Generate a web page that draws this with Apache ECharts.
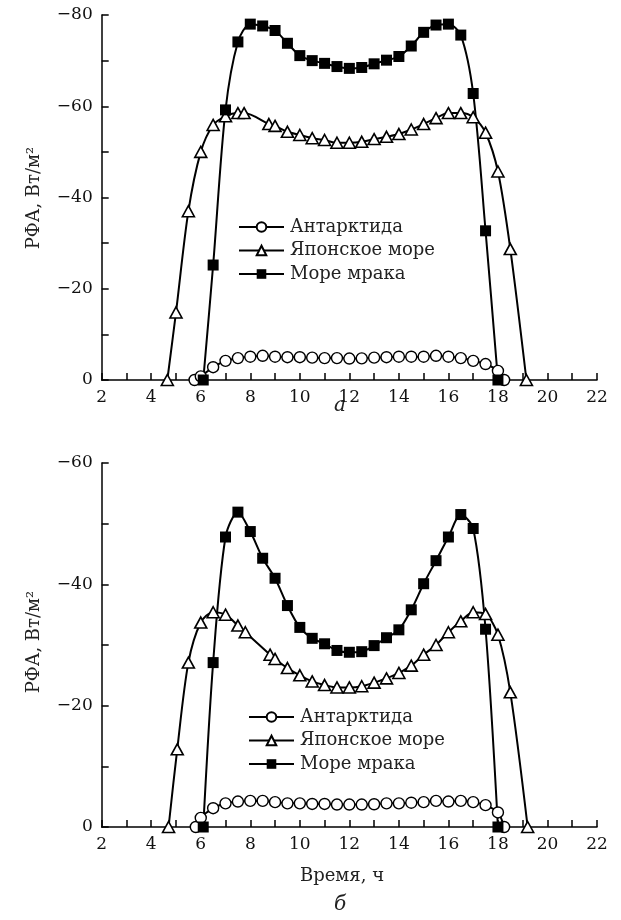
<!DOCTYPE html>
<html>
<head>
<meta charset="utf-8">
<script src="https://cdn.jsdelivr.net/npm/echarts@6/dist/echarts.min.js"></script>
<style>
html,body{margin:0;padding:0;background:#fff;}
#c{width:621px;height:920px;}
</style>
</head>
<body>
<div id="c"></div>
<script>
// ---- Data (panel а) ----
var namesSeries = ['Антарктида', 'Японское море', 'Море мрака'];
var xTicksLabels = [2, 4, 6, 8, 10, 12, 14, 16, 18, 20, 22];

var aAntX = [5.75, 6.0, 6.5, 7.0, 7.5, 8.0, 8.5, 9.0, 9.5, 10.0, 10.5, 11.0, 11.5, 12.0, 12.5, 13.0, 13.5, 14.0, 14.5, 15.0, 15.5, 16.0, 16.5, 17.0, 17.5, 18.0, 18.25];
var aAntY = [0, -0.8, -2.8, -4.2, -4.8, -5.1, -5.3, -5.1, -5.0, -5.0, -4.9, -4.8, -4.8, -4.7, -4.75, -4.9, -5.0, -5.1, -5.1, -5.1, -5.3, -5.1, -4.8, -4.2, -3.5, -2.0, 0];

var aJapX = [4.65, 5.0, 5.5, 6.0, 6.5, 7.0, 7.5, 7.75, 8.75, 9.0, 9.5, 10.0, 10.5, 11.0, 11.5, 12.0, 12.5, 13.0, 13.5, 14.0, 14.5, 15.0, 15.5, 16.0, 16.5, 17.0, 17.5, 18.0, 18.5, 19.15];
var aJapY = [0, -14.8, -37.0, -50.0, -55.9, -57.8, -58.5, -58.5, -56.1, -55.7, -54.4, -53.7, -53.0, -52.6, -52.0, -52.0, -52.2, -52.8, -53.3, -53.9, -54.9, -56.1, -57.4, -58.5, -58.5, -57.6, -54.2, -45.7, -28.7, 0];

var aMrkX = [6.1, 6.5, 7.0, 7.5, 8.0, 8.5, 9.0, 9.5, 10.0, 10.5, 11.0, 11.5, 12.0, 12.5, 13.0, 13.5, 14.0, 14.5, 15.0, 15.5, 16.0, 16.5, 17.0, 17.5, 18.0];
var aMrkY = [0, -25.2, -59.2, -74.1, -78.0, -77.6, -76.6, -73.8, -71.1, -70.0, -69.4, -68.7, -68.3, -68.5, -69.3, -70.1, -70.9, -73.2, -76.2, -77.8, -78.0, -75.6, -62.8, -32.7, 0];

// ---- Data (panel б) ----
var bAntX = [5.8, 6.0, 6.5, 7.0, 7.5, 8.0, 8.5, 9.0, 9.5, 10.0, 10.5, 11.0, 11.5, 12.0, 12.5, 13.0, 13.5, 14.0, 14.5, 15.0, 15.5, 16.0, 16.5, 17.0, 17.5, 18.0, 18.25];
var bAntY = [0, -1.5, -3.1, -3.9, -4.2, -4.3, -4.3, -4.1, -3.9, -3.9, -3.8, -3.8, -3.7, -3.7, -3.7, -3.75, -3.9, -3.9, -4.0, -4.1, -4.3, -4.2, -4.3, -4.1, -3.6, -2.4, 0];

var bJapX = [4.7, 5.05, 5.5, 6.0, 6.5, 7.0, 7.5, 7.8, 8.8, 9.0, 9.5, 10.0, 10.5, 11.0, 11.5, 12.0, 12.5, 13.0, 13.5, 14.0, 14.5, 15.0, 15.5, 16.0, 16.5, 17.0, 17.5, 18.0, 18.5, 19.2];
var bJapY = [0, -12.8, -27.1, -33.7, -35.4, -35.0, -33.2, -32.1, -28.4, -27.7, -26.2, -25.0, -24.0, -23.4, -23.0, -23.0, -23.2, -23.8, -24.5, -25.4, -26.6, -28.4, -30.0, -32.1, -33.9, -35.4, -35.1, -31.7, -22.2, 0];

var bMrkX = [6.1, 6.5, 7.0, 7.5, 8.0, 8.5, 9.0, 9.5, 10.0, 10.5, 11.0, 11.5, 12.0, 12.5, 13.0, 13.5, 14.0, 14.5, 15.0, 15.5, 16.0, 16.5, 17.0, 17.5, 18.0];
var bMrkY = [0, -27.1, -47.8, -51.9, -48.7, -44.3, -41.0, -36.5, -32.9, -31.1, -30.2, -29.1, -28.8, -28.9, -29.9, -31.2, -32.5, -35.8, -40.1, -43.9, -47.8, -51.5, -49.2, -32.6, 0];

var yTitle = 'РФА, Вт/м²';
var xTitle = 'Время, ч';
var panelLabels = ['а', 'б'];

function zip(xs, ys) { return xs.map(function (x, i) { return [x, ys[i]]; }); }

var FONT = 'DejaVu Serif';
var FS = 17;

function xAxisDef(gi) {
  return {
    type: 'value', gridIndex: gi, min: 2, max: 22, interval: 1,
    axisLine: { show: true, onZero: false, lineStyle: { color: '#000', width: 1.5 } },
    axisTick: { show: true, inside: true, length: 7, lineStyle: { color: '#000', width: 1.5 } },
    splitLine: { show: false },
    axisLabel: {
      color: '#111', fontFamily: FONT, fontSize: FS, margin: 9,
      formatter: function (v) { return xTicksLabels.indexOf(v) >= 0 ? String(v) : ''; }
    }
  };
}
function yAxisDef(gi, minV) {
  return {
    type: 'value', gridIndex: gi, min: minV, max: 0, interval: 10, inverse: true,
    axisLine: { show: true, onZero: false, lineStyle: { color: '#000', width: 1.5 } },
    axisTick: { show: true, inside: true, length: 7, lineStyle: { color: '#000', width: 1.5 } },
    splitLine: { show: false },
    axisLabel: {
      color: '#111', fontFamily: FONT, fontSize: FS, margin: 9,
      formatter: function (v) {
        if (v % 20 !== 0) return '';
        return v < 0 ? '\u2212' + Math.abs(v) : String(v);
      }
    }
  };
}

function mkSeries(name, data, gi, kind) {
  var s = {
    name: name, type: 'line', xAxisIndex: gi, yAxisIndex: gi,
    data: data, smooth: 0.3, showAllSymbol: true,
    lineStyle: { color: '#000', width: 2 },
    symbolSize: 11
  };
  if (kind === 'circle') {
    s.symbol = 'circle';
    s.itemStyle = { color: '#fff', borderColor: '#000', borderWidth: 1.4 };
  } else if (kind === 'tri') {
    s.symbol = 'triangle';
    s.symbolSize = [12, 11];
    s.itemStyle = { color: '#fff', borderColor: '#000', borderWidth: 1.6 };
  } else {
    s.symbol = 'rect';
    s.itemStyle = { color: '#000', borderColor: '#000', borderWidth: 0 };
  }
  return s;
}

var chart = echarts.init(document.getElementById('c'), null, { renderer: 'canvas' });
var legendCommon = {
  orient: 'vertical', itemWidth: 45, itemHeight: 12, itemGap: 5.5, padding: 0,
  selectedMode: false,
  textStyle: { color: '#222', fontFamily: FONT, fontSize: 18, padding: [0, 0, 0, 1] },
  data: namesSeries
};
var titleFont = '18px "' + FONT + '"';
chart.setOption({
  animation: false,
  backgroundColor: '#fff',
  grid: [
    { left: 101.7, right: 24, top: 15, height: 365 },
    { left: 101.7, right: 24, top: 463, height: 364 }
  ],
  xAxis: [xAxisDef(0), xAxisDef(1)],
  yAxis: [yAxisDef(0, -80), yAxisDef(1, -60)],
  legend: [
    Object.assign({}, legendCommon, { left: 238, top: 218 }),
    Object.assign({}, legendCommon, { left: 248, top: 708 })
  ],
  graphic: [
    { type: 'text', rotation: Math.PI / 2, style: { text: yTitle, font: titleFont, fill: '#222', textAlign: 'center', textVerticalAlign: 'middle' }, x: 34, y: 198 },
    { type: 'text', rotation: Math.PI / 2, style: { text: yTitle, font: titleFont, fill: '#222', textAlign: 'center', textVerticalAlign: 'middle' }, x: 34, y: 642 },
    { type: 'text', style: { text: panelLabels[0], font: 'italic 20px "' + FONT + '"', fill: '#222', textAlign: 'center', textVerticalAlign: 'middle' }, x: 340, y: 406 },
    { type: 'text', style: { text: xTitle, font: titleFont, fill: '#222', textAlign: 'center', textVerticalAlign: 'middle' }, x: 342, y: 876 },
    { type: 'text', style: { text: panelLabels[1], font: 'italic 20px "' + FONT + '"', fill: '#222', textAlign: 'center', textVerticalAlign: 'middle' }, x: 340, y: 905 }
  ],
  series: [
    mkSeries(namesSeries[0], zip(aAntX, aAntY), 0, 'circle'),
    mkSeries(namesSeries[1], zip(aJapX, aJapY), 0, 'tri'),
    mkSeries(namesSeries[2], zip(aMrkX, aMrkY), 0, 'rect'),
    mkSeries(namesSeries[0], zip(bAntX, bAntY), 1, 'circle'),
    mkSeries(namesSeries[1], zip(bJapX, bJapY), 1, 'tri'),
    mkSeries(namesSeries[2], zip(bMrkX, bMrkY), 1, 'rect')
  ]
});
</script>
</body>
</html>
